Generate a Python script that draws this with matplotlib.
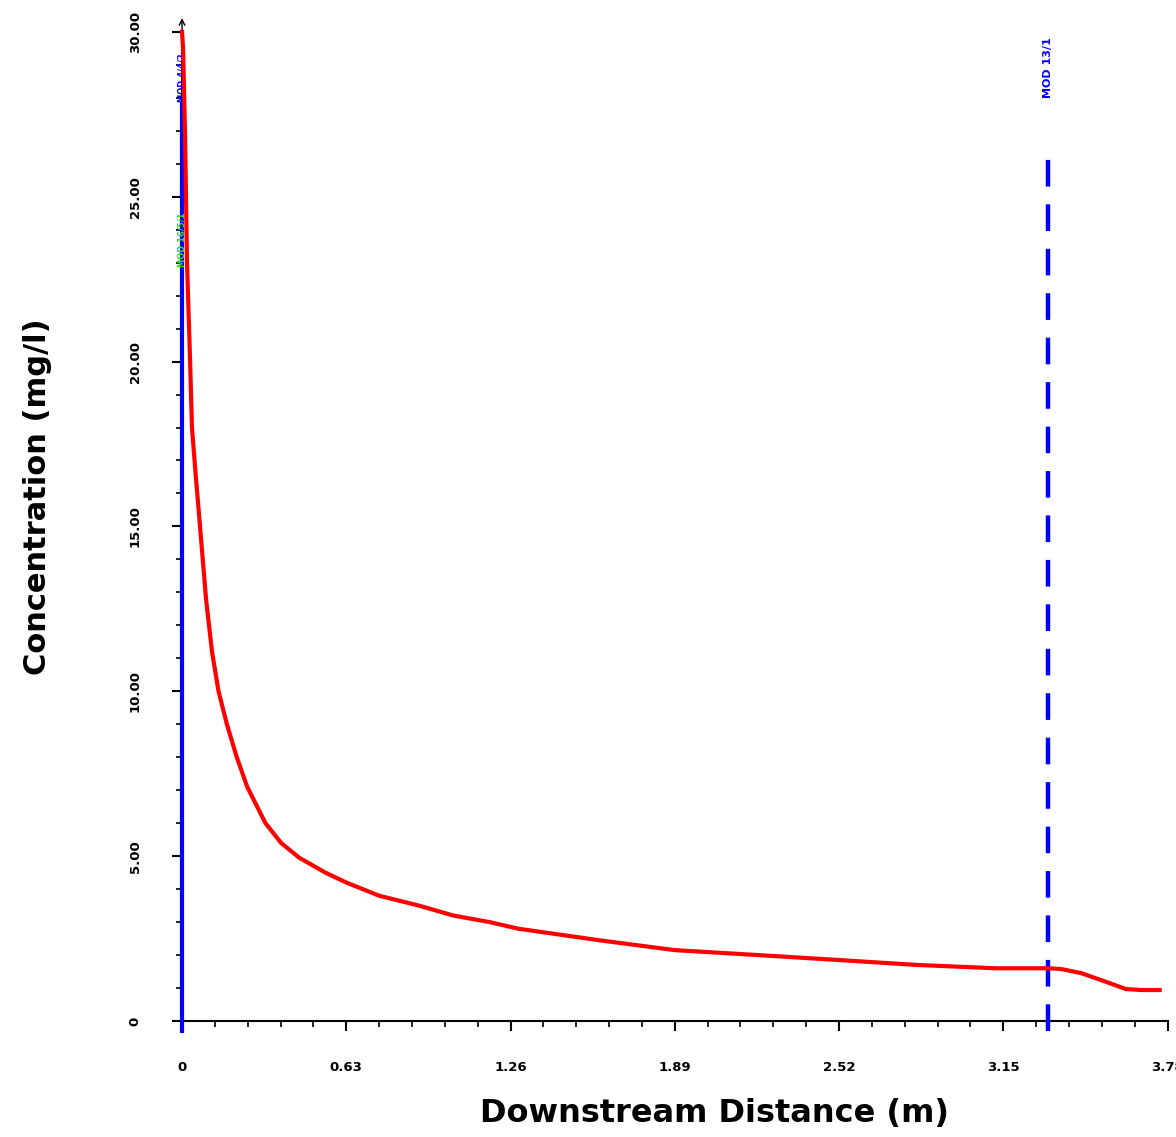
import numpy as np
import matplotlib.pyplot as plt
from matplotlib.ticker import MultipleLocator

# ---------------- DATA ----------------
distance = [0.0, 0.004, 0.0115, 0.019, 0.031, 0.038, 0.053, 0.069, 0.092, 0.115,
            0.14, 0.172, 0.21, 0.25, 0.32, 0.38, 0.45, 0.55, 0.63, 0.756,
            0.909, 1.04, 1.18, 1.29, 1.60, 1.89, 2.21, 2.52, 2.82, 3.12,
            3.32, 3.37, 3.45, 3.54, 3.62, 3.68, 3.75]
concentration = [30.0, 29.5, 26.9, 23.0, 20.0, 18.0, 16.5, 15.0, 12.8, 11.2,
                 10.0, 9.0, 8.0, 7.1, 6.0, 5.4, 4.95, 4.5, 4.2, 3.8,
                 3.5, 3.2, 3.0, 2.8, 2.45, 2.15, 2.0, 1.85, 1.7, 1.6,
                 1.6, 1.58, 1.45, 1.2, 0.97, 0.94, 0.94]
x_ticks = [0, 0.63, 1.26, 1.89, 2.52, 3.15, 3.78]
x_labels = ["0", "0.63", "1.26", "1.89", "2.52", "3.15", "3.78"]
y_ticks = [0, 5, 10, 15, 20, 25, 30]
y_labels = ["0", "5.00", "10.00", "15.00", "20.00", "25.00", "30.00"]
marker_x = 3.32
marker_label = "MOD 13/1"

# ---------------- FIGURE ----------------
fig = plt.figure(figsize=(11.76, 11.37), dpi=100)
ax = fig.add_axes([0.1548, 0.102, 0.838, 0.870])

ax.set_xlim(0, 3.78)
ax.set_ylim(0, 30)
for s in ["top", "right"]:
    ax.spines[s].set_visible(False)
ax.spines["left"].set_linewidth(1.5)
ax.spines["bottom"].set_linewidth(1.5)

# markers at the source (x = 0)
ax.plot([0, 0], [-0.3, 27.8], color="blue", lw=3, clip_on=False, zorder=3)
ax.text(0, 28.6, "MOD 4/4/2", color="blue", rotation=90, fontsize=6,
        fontweight="bold", ha="center", va="center", zorder=4)
ax.text(0, 23.7, "MOD 16/5/1", color="#33dd22", rotation=90, fontsize=6,
        fontweight="bold", ha="center", va="center", zorder=4)

# downstream marker
ax.plot([marker_x, marker_x], [-0.3, 26.3], color="blue", lw=3.2,
        dashes=(6, 4), clip_on=False, zorder=3)
ax.text(marker_x, 28.9, marker_label, color="blue", rotation=90, fontsize=8,
        fontweight="bold", ha="center", va="center")

# concentration curve
ax.plot(distance, concentration, color="red", lw=3, zorder=5, clip_on=False,
        solid_joinstyle="round")

# axis arrow
ax.annotate("", xy=(0, 30.5), xytext=(0, 29.3),
            arrowprops=dict(arrowstyle="->", lw=1, color="black"),
            annotation_clip=False)

# ticks
ax.set_xticks(x_ticks)
ax.set_xticklabels(x_labels, fontsize=9.5, fontweight="heavy")
ax.xaxis.set_minor_locator(MultipleLocator(0.126))
ax.set_yticks(y_ticks)
ax.set_yticklabels(y_labels, fontsize=9.5, fontweight="heavy", rotation=90, va="center")
ax.yaxis.set_minor_locator(MultipleLocator(1))
ax.tick_params(axis="x", which="major", length=7, width=1.5, pad=22)
ax.tick_params(axis="x", which="minor", length=4, width=1.2)
ax.tick_params(axis="y", which="major", length=7, width=1.5, pad=22)
ax.tick_params(axis="y", which="minor", length=4, width=1.2)

ax.set_xlabel("Downstream Distance (m)", fontsize=23, fontweight="heavy")
ax.set_ylabel("Concentration (mg/l)", fontsize=22, fontweight="heavy")
ax.xaxis.set_label_coords(0.54, -0.078)
ax.yaxis.set_label_coords(-0.132, 0.53)

fig.savefig("out.png", dpi=100)
